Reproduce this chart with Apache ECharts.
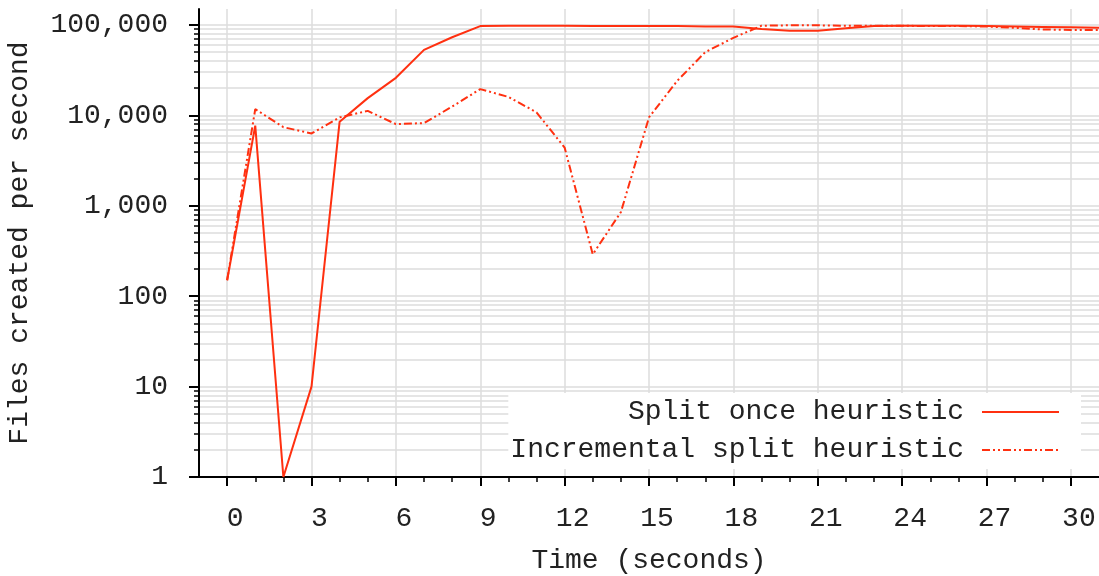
<!DOCTYPE html>
<html>
<head>
<meta charset="utf-8">
<script src="https://cdn.jsdelivr.net/npm/echarts@6/dist/echarts.min.js"></script>
<style>
  html, body { margin: 0; padding: 0; background: #fff; }
  #chart { width: 1099px; height: 576px; }
</style>
</head>
<body>
<div id="chart"></div>
<script>
// Sample times (seconds)
const times = [0, 1, 2, 3, 4, 5, 6, 7, 8, 9, 10, 11, 12, 13, 14, 15, 16, 17, 18, 19, 20, 21, 22, 23, 24, 25, 26, 27, 28, 29, 30, 31];

// Files created per second, split once heuristic
const splitOnce = [150, 7700, 1, 10, 8500, 15500, 26000, 53000, 73000, 97000, 98000, 98000, 98000, 97000, 97000, 97000, 97000, 96000, 96000, 90000, 86000, 86000, 92000, 97000, 98000, 98000, 98000, 97000, 96000, 95000, 94000, 93000];

// Files created per second, incremental split heuristic
const incremental = [150, 11700, 7400, 6300, 9500, 11200, 8000, 8200, 12500, 19500, 16000, 10800, 4400, 290, 850, 9500, 24000, 50000, 72000, 98000, 99000, 99000, 98000, 98000, 98000, 97000, 97000, 96000, 93000, 89000, 88000, 88000];

// Tick positions
const xMajorTicks = [0, 3, 6, 9, 12, 15, 18, 21, 24, 27, 30];
const xMinorTicks = [1, 2, 4, 5, 7, 8, 10, 11, 13, 14, 16, 17, 19, 20, 22, 23, 25, 26, 28, 29];
const yMajorTicks = [1, 10, 100, 1000, 10000, 100000];
const yMinorTicks = [];
for (let d = 1; d <= 10000; d *= 10) {
  for (let m = 2; m <= 9; m++) yMinorTicks.push(m * d);
}

const seriesNames = ['Split once heuristic', 'Incremental split heuristic'];

const FONT = "'Courier New', 'Liberation Mono', monospace";
const TEXT = '#222';
const LINE = '#ff3010';
const GRID = '#dcdcdc';

const pairs = (ys) => times.map((t, i) => [t, ys[i]]);
const fmtThousands = (v) => String(Math.round(v)).replace(/\B(?=(\d{3})+(?!\d))/g, ',');
const longest = Math.max(...seriesNames.map(s => s.length));

const chart = echarts.init(document.getElementById('chart'), null, { renderer: 'canvas' });

chart.setOption({
  animation: false,
  backgroundColor: '#fff',
  textStyle: { fontFamily: FONT, color: TEXT },
  grid: { left: 199, right: 0, top: 9, bottom: 99, containLabel: false, outerBoundsMode: 'none' },
  xAxis: [
    {
      type: 'value', min: -1, max: 31,
      name: 'Time (seconds)', nameLocation: 'middle', nameGap: 70,
      nameTextStyle: { fontFamily: FONT, fontSize: 28, color: TEXT },
      axisLine: { show: true, onZero: false, lineStyle: { color: '#000', width: 2 } },
      axisTick: { show: true, customValues: xMajorTicks, length: 9, lineStyle: { color: '#000', width: 2 } },
      axisLabel: { customValues: xMajorTicks, margin: 28, fontSize: 28, fontFamily: FONT, color: TEXT, padding: [0, 0, 0, 16] },
      splitLine: { show: true, lineStyle: { color: GRID, width: 1.5 } }
    },
    {
      type: 'value', min: -1, max: 31, position: 'bottom',
      axisLine: { show: false, onZero: false },
      axisTick: { show: true, customValues: xMinorTicks, length: 5, lineStyle: { color: '#000', width: 1.5 } },
      axisLabel: { show: false },
      splitLine: { show: false }
    }
  ],
  yAxis: [
    {
      type: 'log', logBase: 10, min: 1, max: 150000,
      name: 'Files created per second', nameLocation: 'middle', nameGap: 165,
      nameTextStyle: { fontFamily: FONT, fontSize: 28, color: TEXT },
      axisLine: { show: true, onZero: false, lineStyle: { color: '#000', width: 2 } },
      axisTick: { show: true, customValues: yMajorTicks, length: 10, lineStyle: { color: '#000', width: 2 } },
      axisLabel: { customValues: yMajorTicks, margin: 31, fontSize: 28, fontFamily: FONT, color: TEXT, formatter: fmtThousands },
      splitLine: { show: true, lineStyle: { color: GRID, width: 1.5 } }
    },
    {
      type: 'log', logBase: 10, min: 1, max: 150000, position: 'left',
      axisLine: { show: false, onZero: false },
      axisTick: { show: true, customValues: yMinorTicks, length: 5, lineStyle: { color: '#000', width: 1.5 } },
      axisLabel: { show: false },
      splitLine: { show: true, lineStyle: { color: GRID, width: 1.5 } }
    }
  ],
  legend: {
    orient: 'vertical',
    right: 18, top: 393,
    align: 'right',
    backgroundColor: '#fff',
    padding: [5, 21, 5, 2],
    itemGap: 10,
    itemWidth: 77, itemHeight: 14,
    itemStyle: { opacity: 0 },
    formatter: (name) => ' '.repeat(longest - name.length) + name,
    textStyle: { fontFamily: FONT, fontSize: 28, color: TEXT, padding: [0, 13, 0, 0] },
    data: seriesNames
  },
  series: [
    {
      name: seriesNames[0], type: 'line', xAxisIndex: 0, yAxisIndex: 0,
      data: pairs(splitOnce), symbol: 'none',
      lineStyle: { color: LINE, width: 2 }, itemStyle: { color: LINE }
    },
    {
      name: seriesNames[1], type: 'line', xAxisIndex: 0, yAxisIndex: 0,
      data: pairs(incremental), symbol: 'none',
      lineStyle: { color: LINE, width: 2, type: [8, 3, 2, 3, 2, 3] }, itemStyle: { color: LINE }
    }
  ]
});
</script>
</body>
</html>
